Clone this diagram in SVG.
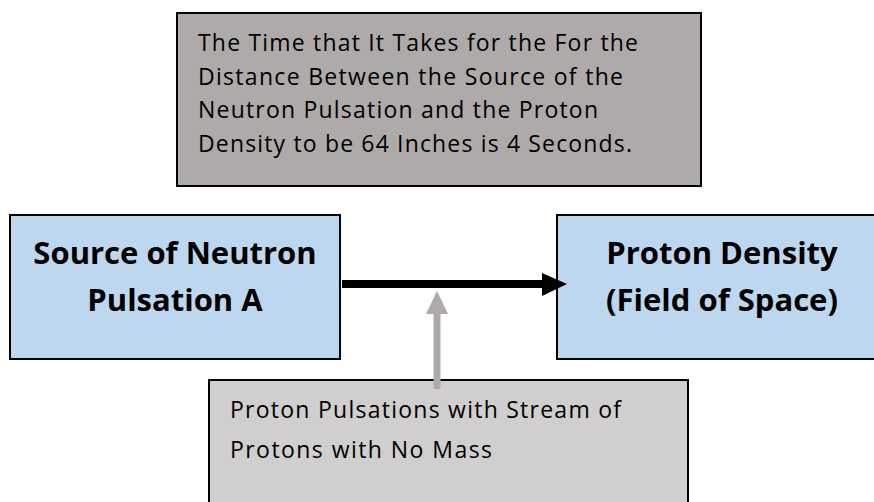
<svg xmlns="http://www.w3.org/2000/svg" width="874" height="502" viewBox="0 0 874 502">
<defs>
<style>
.box{stroke:#000;stroke-width:2}
.t{font-family:"Open Sans","Noto Sans",sans-serif;font-size:23px;fill:#000}
.b{font-family:"Open Sans","Noto Sans",sans-serif;font-size:31px;font-weight:bold;fill:#000;text-anchor:middle}
</style>
</defs>
<rect width="874" height="502" fill="#fff"/>
<g id="note-top">
<rect class="box" x="177" y="13" width="524" height="173" fill="#AEAAAA"/>
<text class="t" x="198" y="51" textLength="440">The Time that It Takes for the For the</text>
<text class="t" x="198" y="85" textLength="425">Distance Between the Source of the</text>
<text class="t" x="198" y="118" textLength="400">Neutron Pulsation and the Proton</text>
<text class="t" x="198" y="152" textLength="434">Density to be 64 Inches is 4 Seconds.</text>
</g>
<g id="source">
<rect class="box" x="10" y="215" width="330" height="144" fill="#BDD7EE"/>
<text class="b" x="175" y="264">Source of Neutron</text>
<text class="b" x="175" y="311">Pulsation A</text>
</g>
<g id="density">
<rect class="box" x="557" y="215" width="330" height="144" fill="#BDD7EE"/>
<text class="b" x="722" y="264">Proton Density</text>
<text class="b" x="722" y="311">(Field of Space)</text>
</g>
<g id="note-bottom">
<rect class="box" x="209" y="380" width="479" height="140" fill="#D0CECE"/>
<text class="t" x="230" y="418" textLength="391">Proton Pulsations with Stream of</text>
<text class="t" x="230" y="458" textLength="262">Protons with No Mass</text>
</g>
<g id="connectors">
<line x1="342" y1="284" x2="544" y2="284" stroke="#000" stroke-width="8"/>
<polygon points="542,273 567,284 542,296" fill="#000"/>
<line x1="437" y1="312" x2="437" y2="389" stroke="#AEAAAA" stroke-width="7"/>
<polygon points="426,314 437,291 448,314" fill="#AEAAAA"/>
</g>
</svg>
